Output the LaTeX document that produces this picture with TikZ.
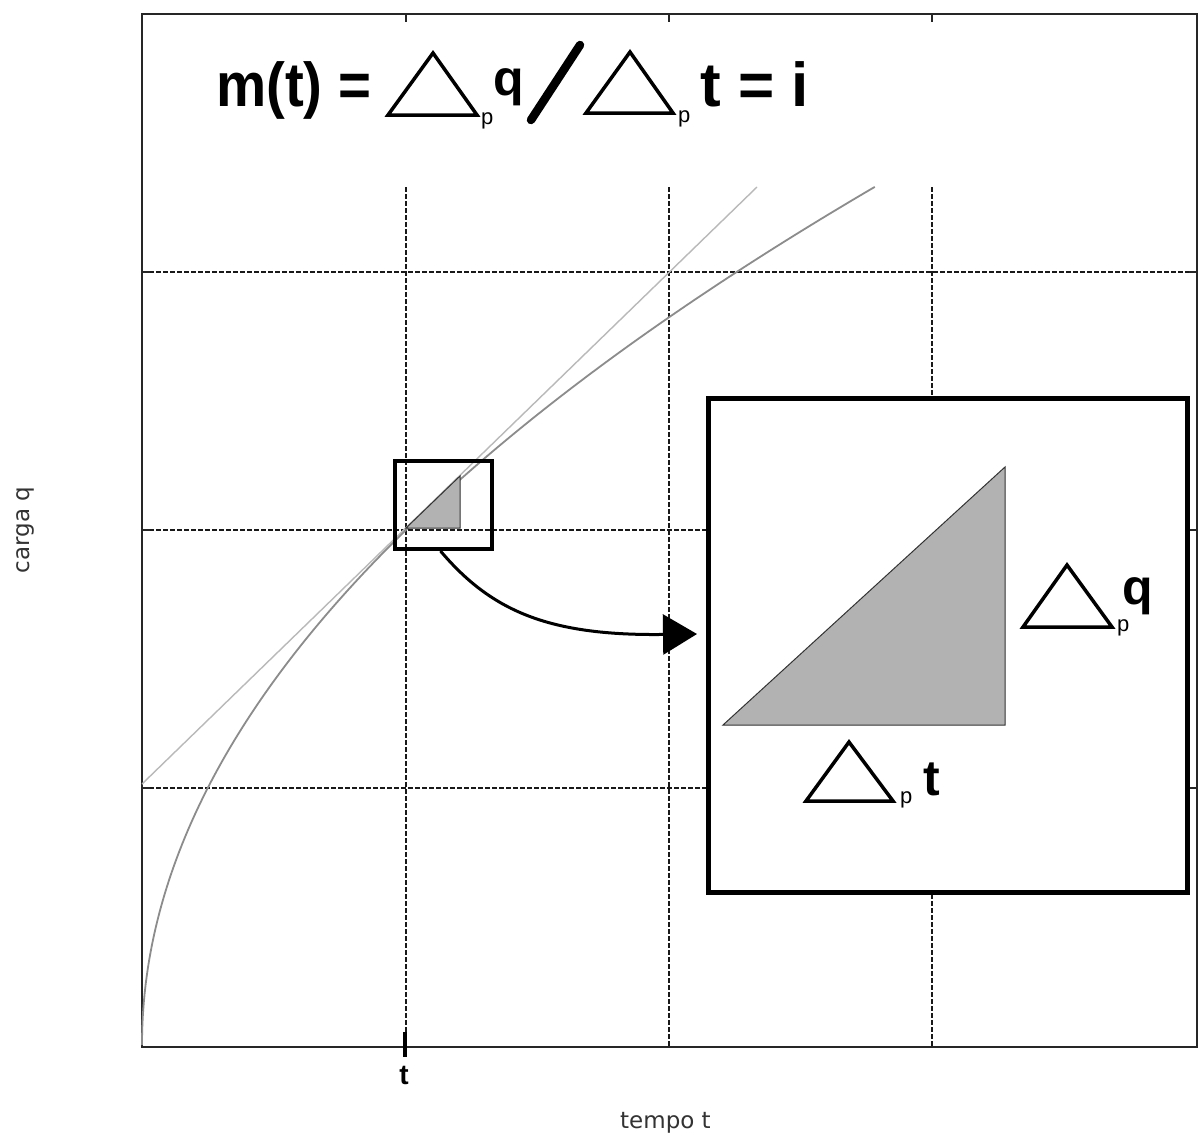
\documentclass[tikz,border=0pt]{standalone}
\usepackage{fontspec}
\usepackage{graphicx}
\setmainfont{Liberation Sans}
\newfontfamily\axisfont{DejaVu Sans}
\usetikzlibrary{arrows.meta}
\tikzset{
  gridline/.style={black!90, line width=1.3pt, dash pattern=on 4.5pt off 2.5pt},
  frameline/.style={black!85, line width=1.6pt},
  tickline/.style={black!85, line width=1.4pt},
  tangentline/.style={gray!55, line width=1.4pt},
  chargecurve/.style={gray!90, line width=1.8pt},
  deltatri/.style={draw=black, line width=3.5pt, line join=miter},
  shadedtri/.style={fill=gray!60, draw=black!80, line width=1pt},
  boldtxt/.style={font=\bfseries\fontsize{#1}{#1}\selectfont, inner sep=0pt},
  subtxt/.style={font=\fontsize{22}{22}\selectfont, inner sep=0pt},
  axislbl/.style={font=\axisfont\fontsize{23}{23}\selectfont, text=black!80, inner sep=0pt},
  zoombox/.style={draw=black, line width=4pt, inner sep=0pt},
  insetbox/.style={draw=black, line width=5pt, fill=white, inner sep=0pt},
  zoomarrow/.style={black, line width=3pt, -{Triangle[length=34pt,width=40pt]}},
}
\begin{document}
\begin{tikzpicture}[x=1pt,y=-1pt]
\fill[white] (0,0) rectangle (1199,1136);
\useasboundingbox (0,0) rectangle (1199,1136);
% grid
\foreach \gx in {406,669,932} {
  \draw[gridline] (\gx,187) -- (\gx,1047);
  \draw[tickline] (\gx,14) -- (\gx,22);
}
\foreach \gy in {272,530,788} {
  \draw[gridline] (142,\gy) -- (1197,\gy);
  \draw[tickline] (142,\gy) -- (150,\gy);
  \draw[tickline] (1189,\gy) -- (1197,\gy);
}
\draw[frameline] (142,14) rectangle (1197,1047);
% curves
\draw[tangentline] (142,784) -- (757,187);
\draw[chargecurve] plot[domain=0:27.07, samples=120, smooth] ({142+\x*\x},{1045-31.7*\x});
% zoom window
\filldraw[shadedtri] (406,528) -- (460,528) -- (460,476) -- cycle;
\node[zoombox, minimum width=97pt, minimum height=88pt] (zoom) at (443.5,505) {};
% inset
\node[insetbox, minimum width=479pt, minimum height=494pt] (inset) at (947.5,645) {};
\filldraw[shadedtri] (723,725) -- (1005,725) -- (1005,467) -- cycle;
% arrow
\coordinate (tip) at (697,634);
\draw[zoomarrow] ([xshift=-3pt]zoom.south) .. controls +(50,59) and +(-150,2) .. (tip);
% title
\node[boldtxt=62, anchor=base west] (mt) at (216,106) {\scalebox{0.91}[1]{m(t) =}};
\draw[deltatri] (388,115) -- (477,115) -- (433,53) -- cycle;
\node[subtxt, anchor=base west] (p1) at (481,124) {p};
\node[boldtxt=50, anchor=base west] (q1) at (493,95) {q};
\draw[black, line width=8.5pt, line cap=round] (531,120) -- (580,45);
\draw[deltatri] (586,113) -- (673,113) -- (630,52) -- cycle;
\node[subtxt, anchor=base west] (p2) at (678,122) {p};
\node[boldtxt=62, anchor=base west] (ti) at (700,106) {t = i};
% inset labels
\draw[deltatri] (1023,627) -- (1112,627) -- (1067,565) -- cycle;
\node[subtxt, anchor=base west] (p3) at (1117,631) {p};
\node[boldtxt=50, anchor=base west] (q3) at (1122,604) {q};
\draw[deltatri] (806,801) -- (893,801) -- (849,742) -- cycle;
\node[subtxt, anchor=base west] (p4) at (900,803) {p};
\node[boldtxt=50, anchor=base west] (t4) at (923,795) {t};
% t tick
\draw[black, line width=4pt] (405,1032) -- (405,1057);
\node[boldtxt=28, anchor=base] (tlab) at (404,1084) {t};
% axis labels
\node[axislbl, anchor=base west] (xlab) at (620,1128) {tempo t};
\node[axislbl, rotate=90] (ylab) at (25,530) {carga q};
\end{tikzpicture}
\end{document}
